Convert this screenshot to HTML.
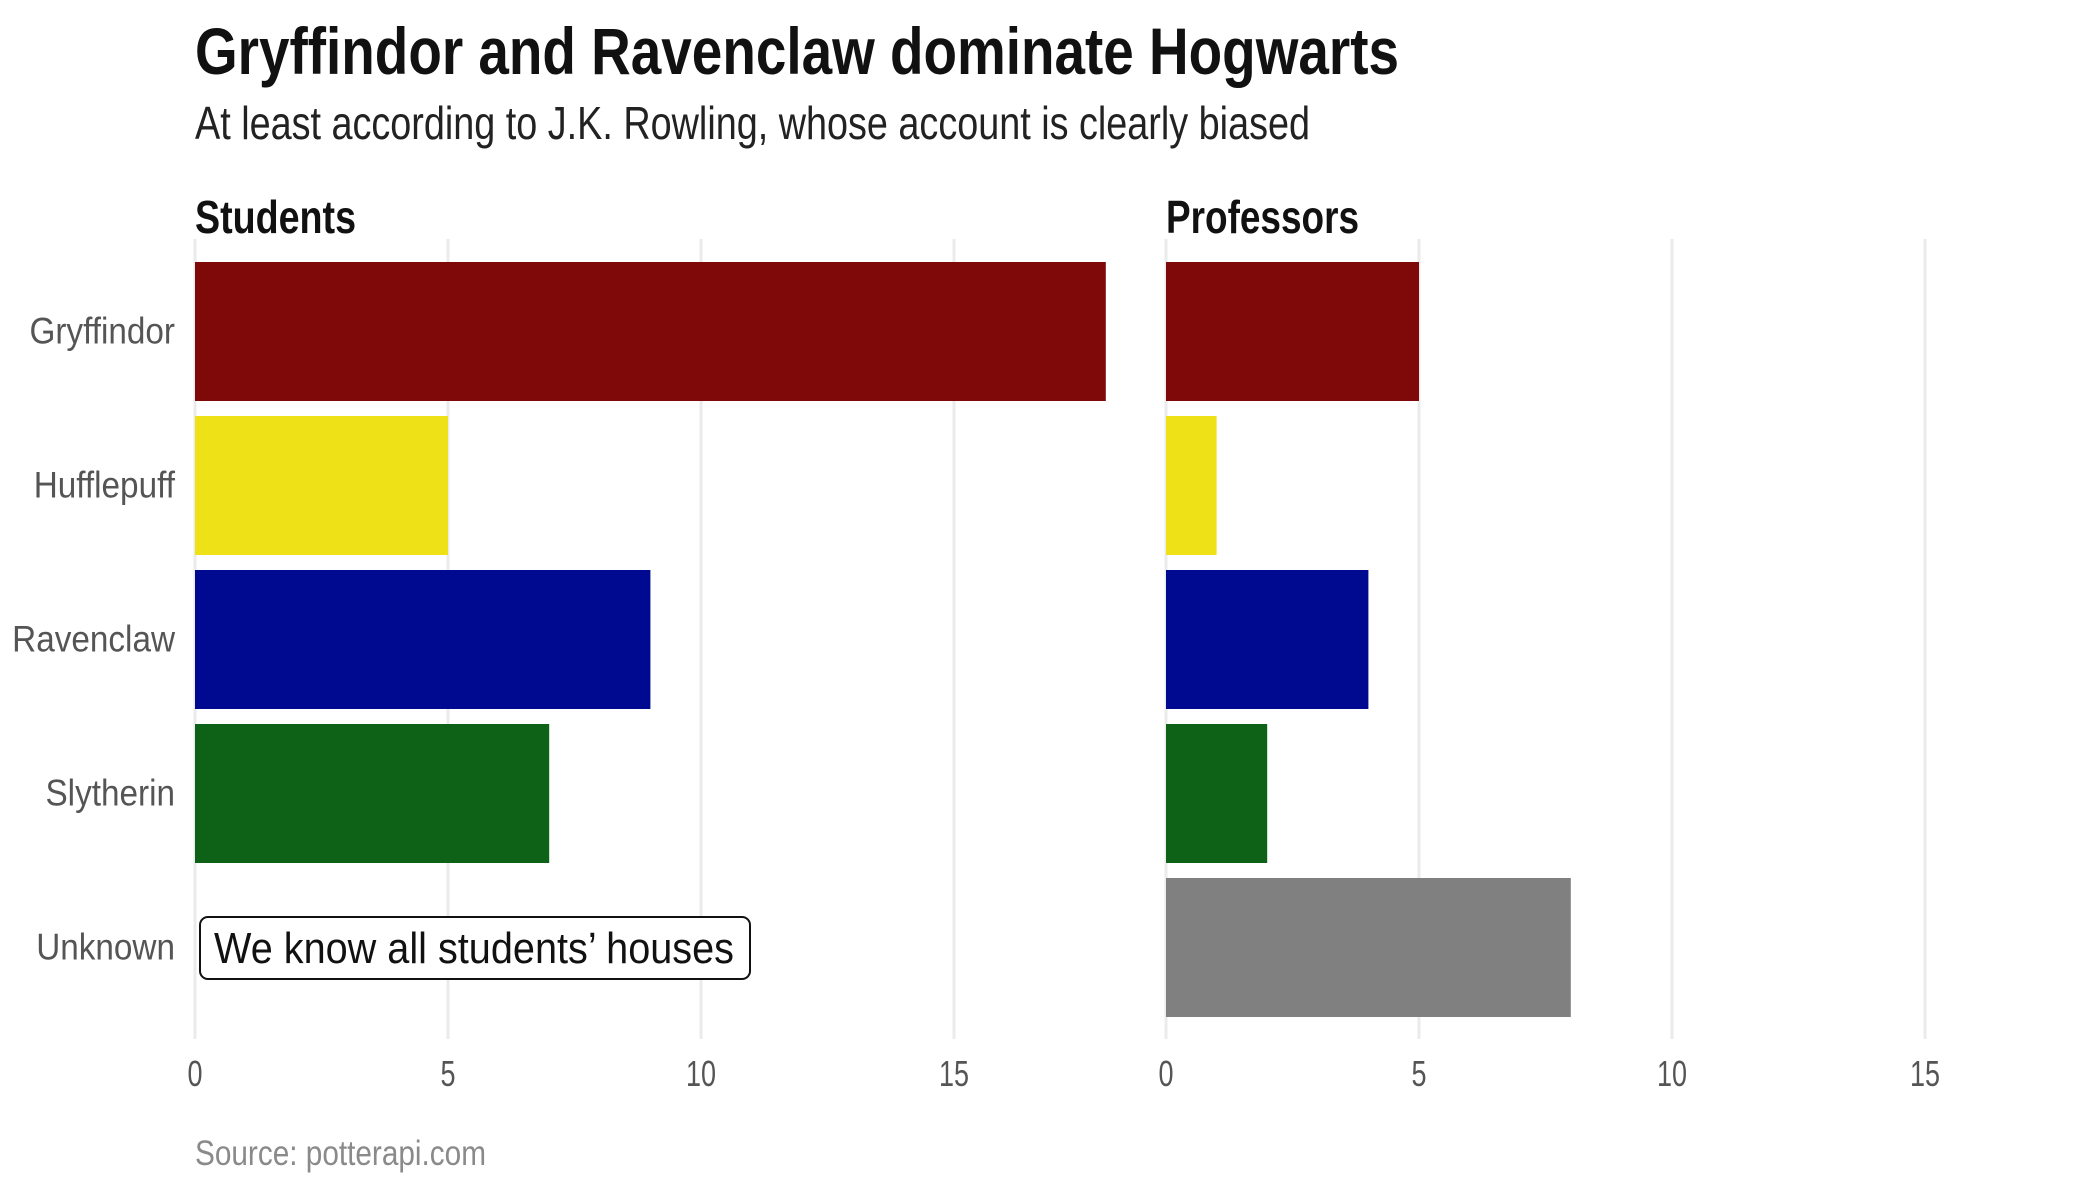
<!DOCTYPE html>
<html><head><meta charset="utf-8"><style>
html,body{margin:0;padding:0;background:#fff;}
svg{display:block;font-family:"Liberation Sans Narrow","Liberation Sans",sans-serif;}
</style></head><body>
<svg id="chart" width="2100" height="1200" viewBox="0 0 2100 1200" xmlns="http://www.w3.org/2000/svg">
<text x="195" y="74" font-size="66" font-weight="bold" fill="#111" textLength="1204" lengthAdjust="spacingAndGlyphs">Gryffindor and Ravenclaw dominate Hogwarts</text>
<text x="195" y="139" font-size="46" fill="#222" textLength="1115" lengthAdjust="spacingAndGlyphs">At least according to J.K. Rowling, whose account is clearly biased</text>
<text x="195" y="233" font-size="46" font-weight="bold" fill="#111" textLength="161" lengthAdjust="spacingAndGlyphs">Students</text>
<text x="1166" y="233" font-size="46" font-weight="bold" fill="#111" textLength="193" lengthAdjust="spacingAndGlyphs">Professors</text>
<g id="grid"></g><g id="bars"></g><g id="labels"></g>
<text x="195" y="1165" font-size="35" fill="#8a8a8a" textLength="291" lengthAdjust="spacingAndGlyphs">Source: potterapi.com</text>
</svg>
<script>
const categories = ["Gryffindor","Hufflepuff","Ravenclaw","Slytherin","Unknown"];
const students = [18, 5, 9, 7, 0];
const professors = [5, 1, 4, 2, 8];
const ticks = [0, 5, 10, 15];
const colors = ["#7F0909","#EEE117","#000A90","#0D6217","#808080"];
const NS = "http://www.w3.org/2000/svg";
const unit = 50.6, bandTop = 262, band = 154, barH = 139;
const labelScale = 0.9;
const panels = [{x0:195, vals:students, name:"students"},{x0:1166, vals:professors, name:"professors"}];
function mk(tag, attrs, parent){const e=document.createElementNS(NS,tag);for(const k in attrs)e.setAttribute(k,attrs[k]);parent.appendChild(e);return e;}
const g=document.getElementById('grid'), b=document.getElementById('bars'), l=document.getElementById('labels');
function xs(p,v){return p.x0+v*unit;}
function yb(i){return bandTop+i*band;}
panels.forEach(p=>{
  ticks.forEach(t=>{
    const ln=mk('line',{x1:xs(p,t),x2:xs(p,t),y1:239,y2:1039,stroke:'#ebebeb','stroke-width':3},g);
    
    
    const tx=mk('text',{x:xs(p,t),y:1086,'font-size':36,fill:'#555','text-anchor':'middle',transform:`translate(${xs(p,t)},0) scale(0.75,1) translate(${-xs(p,t)},0)`},l);
    tx.textContent=t;
    
    
  });
  p.vals.forEach((v,i)=>{
    if(v<=0) return;
    const r=mk('rect',{x:p.x0,y:yb(i),width:v*unit,height:barH,fill:colors[i]},b);
    
    
  });
});
categories.forEach((c,i)=>{
  const tx=mk('text',{x:175,y:yb(i)+barH/2+12,'font-size':37,fill:'#555','text-anchor':'end',transform:`translate(175,0) scale(${labelScale},1) translate(-175,0)`},l);
  tx.textContent=c;
  
  
});
const box=mk('rect',{x:200,y:917,width:550,height:62,rx:8,fill:'#fff',stroke:'#111','stroke-width':2},l);


const at=mk('text',{x:214,y:963,'font-size':44,fill:'#111',textLength:520,lengthAdjust:'spacingAndGlyphs'},l);
at.textContent="We know all students’ houses";


</script>
</body></html>
